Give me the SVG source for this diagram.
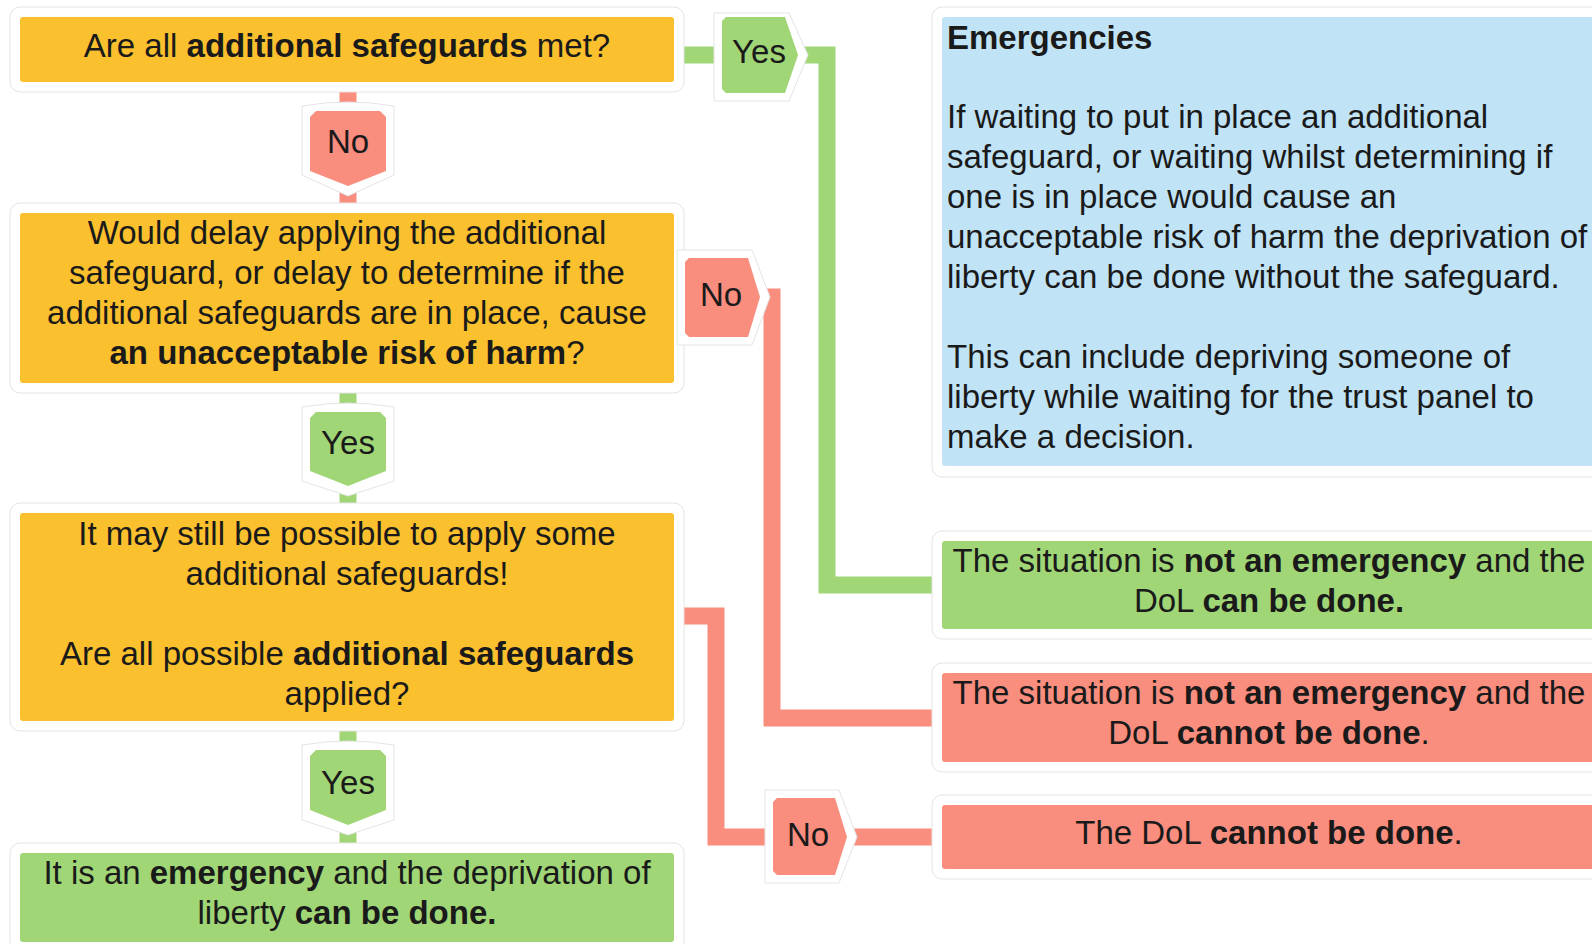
<svg xmlns="http://www.w3.org/2000/svg" width="1592" height="944" viewBox="0 0 1592 944">
<style>
.halo{fill:#fff;stroke:#e4e4e4;stroke-width:1}
.org{fill:#FBC02D}
.grn{fill:#A0D676}
.red{fill:#F98D7E}
.blu{fill:#C1E3F6}
.t{font-family:"Liberation Sans",Arial,sans-serif;font-size:33px;fill:#1a1a1a}
.c{text-anchor:middle}
.b{font-weight:bold}
.lg{fill:none;stroke:#A0D676;stroke-width:17;stroke-linejoin:miter}
.lr{fill:none;stroke:#F98D7E;stroke-width:17;stroke-linejoin:miter}
.bh{fill:#fff;stroke:#e4e4e4;stroke-width:1;stroke-linejoin:round}
</style>
<rect width="1592" height="944" fill="#fff"/>
<g id="connectors">
<path class="lg" d="M674 55 H827 V585 H942"/>
<path class="lr" d="M348 82 V213"/>
<path class="lg" d="M348 383 V513"/>
<path class="lg" d="M348 721 V853"/>
<path class="lr" d="M674 297 H772 V718 H942"/>
<path class="lr" d="M674 616 H716 V837 H942"/>
</g>
<g id="q1">
<rect class="halo" x="10" y="7" width="674" height="85" rx="10"/>
<rect class="org" x="20" y="17" width="654" height="65" rx="3"/>
<text class="t c" x="347" y="57">Are all <tspan class="b">additional safeguards</tspan> met?</text>
</g>
<g id="q2">
<rect class="halo" x="10" y="203" width="674" height="190" rx="10"/>
<rect class="org" x="20" y="213" width="654" height="170" rx="3"/>
<text class="t c" x="347" y="244">Would delay applying the additional</text>
<text class="t c" x="347" y="284">safeguard, or delay to determine if the</text>
<text class="t c" x="347" y="324">additional safeguards are in place, cause</text>
<text class="t c" x="347" y="364"><tspan class="b">an unacceptable risk of harm</tspan>?</text>
</g>
<g id="q3">
<rect class="halo" x="10" y="503" width="674" height="228" rx="10"/>
<rect class="org" x="20" y="513" width="654" height="208" rx="3"/>
<text class="t c" x="347" y="545">It may still be possible to apply some</text>
<text class="t c" x="347" y="585">additional safeguards!</text>
<text class="t c" x="347" y="665">Are all possible <tspan class="b">additional safeguards</tspan></text>
<text class="t c" x="347" y="705">applied?</text>
</g>
<g id="r-emergency">
<rect class="halo" x="10" y="843" width="674" height="109" rx="10"/>
<rect class="grn" x="20" y="853" width="654" height="89" rx="3"/>
<text class="t c" x="347" y="884">It is an <tspan class="b">emergency</tspan> and the deprivation of</text>
<text class="t c" x="347" y="924">liberty <tspan class="b">can be done.</tspan></text>
</g>
<g id="info">
<rect class="halo" x="932" y="7" width="674" height="470" rx="10"/>
<rect class="blu" x="942" y="17" width="654" height="449" rx="3"/>
<text class="t b" x="947" y="49">Emergencies</text>
<text class="t" x="947" y="128">If waiting to put in place an additional</text>
<text class="t" x="947" y="168">safeguard, or waiting whilst determining if</text>
<text class="t" x="947" y="208">one is in place would cause an</text>
<text class="t" x="947" y="248">unacceptable risk of harm the deprivation of</text>
<text class="t" x="947" y="288">liberty can be done without the safeguard.</text>
<text class="t" x="947" y="368">This can include depriving someone of</text>
<text class="t" x="947" y="408">liberty while waiting for the trust panel to</text>
<text class="t" x="947" y="448">make a decision.</text>
</g>
<g id="r-can">
<rect class="halo" x="932" y="531" width="674" height="108" rx="10"/>
<rect class="grn" x="942" y="541" width="654" height="88" rx="3"/>
<text class="t c" x="1269" y="572">The situation is <tspan class="b">not an emergency</tspan> and the</text>
<text class="t c" x="1269" y="612">DoL <tspan class="b">can be done.</tspan></text>
</g>
<g id="r-cannot">
<rect class="halo" x="932" y="663" width="674" height="109" rx="10"/>
<rect class="red" x="942" y="673" width="654" height="89" rx="3"/>
<text class="t c" x="1269" y="704">The situation is <tspan class="b">not an emergency</tspan> and the</text>
<text class="t c" x="1269" y="744">DoL <tspan class="b">cannot be done</tspan>.</text>
</g>
<g id="r-dol-no">
<rect class="halo" x="932" y="795" width="674" height="84" rx="10"/>
<rect class="red" x="942" y="805" width="654" height="64" rx="3"/>
<text class="t c" x="1269" y="844">The DoL <tspan class="b">cannot be done</tspan>.</text>
</g>
<g id="yes1">
<path class="bh" d="M714 13 H789 L808 55 L789 101 H714 Z"/>
<path class="grn" d="M722 21 L726 17 H785 L798 55 L785 93 H726 L722 89 Z"/>
<text class="t c" x="759" y="63">Yes</text>
</g>
<g id="no1">
<path class="bh" d="M302 106 Q348 98 394 106 V175 L348 196 L302 175 Z"/>
<path class="red" d="M310 117 L316 111 H380 L386 117 V171 L348 186 L310 171 Z"/>
<text class="t c" x="348" y="153">No</text>
</g>
<g id="no2">
<path class="bh" d="M677 250 H752 L770 297 L752 345 H677 Z"/>
<path class="red" d="M685 262 L689 258 H748 L760 297 L748 337 H689 L685 333 Z"/>
<text class="t c" x="721" y="306">No</text>
</g>
<g id="yes2">
<path class="bh" d="M302 407 Q348 399 394 407 V481 L348 496 L302 481 Z"/>
<path class="grn" d="M310 418 L316 412 H380 L386 418 V471 L348 486 L310 471 Z"/>
<text class="t c" x="348" y="454">Yes</text>
</g>
<g id="yes3">
<path class="bh" d="M302 745 Q348 737 394 745 V820 L348 835 L302 820 Z"/>
<path class="grn" d="M310 756 L316 750 H380 L386 756 V810 L348 825 L310 810 Z"/>
<text class="t c" x="348" y="794">Yes</text>
</g>
<g id="no3">
<path class="bh" d="M765 790 H839 L857 837 L839 883 H765 Z"/>
<path class="red" d="M773 802 L777 798 H835 L847 837 L835 875 H777 L773 871 Z"/>
<text class="t c" x="808" y="846">No</text>
</g>
</svg>
